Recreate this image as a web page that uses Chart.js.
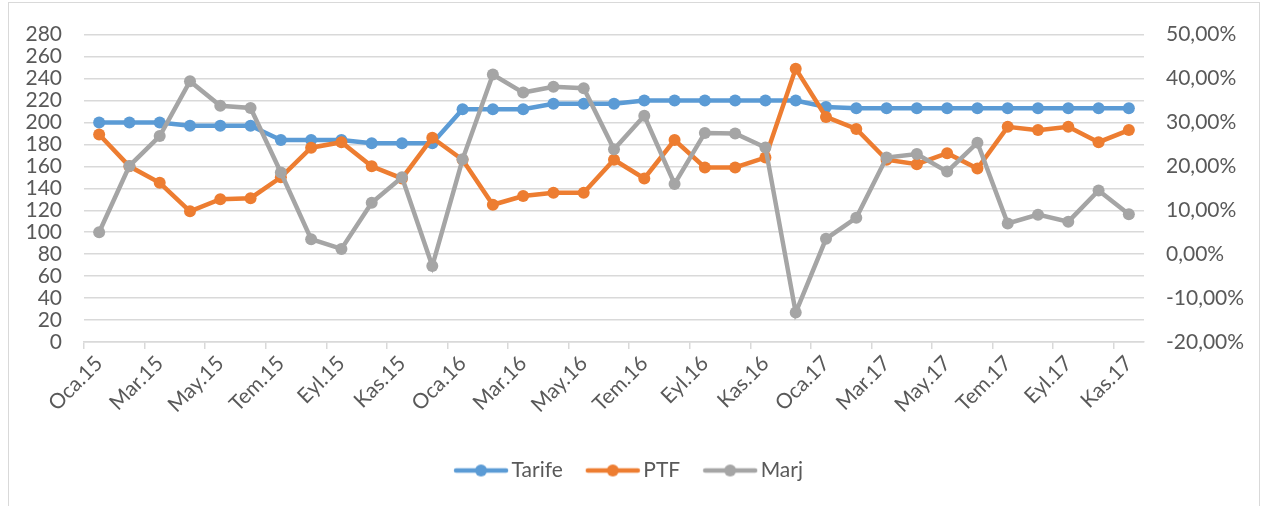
<!DOCTYPE html>
<html>
<head>
<meta charset="utf-8">
<script src="https://cdn.jsdelivr.net/npm/chart.js@4.4.1/dist/chart.umd.min.js"></script>
<style>
  html, body { margin: 0; padding: 0; background: #fff; }
  #wrap { position: relative; width: 1264px; height: 506px; overflow: hidden; }
  #frame { position: absolute; left: 8px; top: 2px; width: 1252px; height: 520px; border: 1px solid #d9d9d9; box-sizing: border-box; }
  canvas { position: absolute; left: 0; top: 0; }
</style>
</head>
<body>
<div id="wrap">
  <div id="frame"></div>
  <canvas id="c" width="1264" height="506"></canvas>
</div>
<script>
const categories = [
  'Oca.15','Şub.15','Mar.15','Nis.15','May.15','Haz.15','Tem.15','Ağu.15','Eyl.15','Eki.15','Kas.15','Ara.15',
  'Oca.16','Şub.16','Mar.16','Nis.16','May.16','Haz.16','Tem.16','Ağu.16','Eyl.16','Eki.16','Kas.16','Ara.16',
  'Oca.17','Şub.17','Mar.17','Nis.17','May.17','Haz.17','Tem.17','Ağu.17','Eyl.17','Eki.17','Kas.17'
];
const tarife = [200,200,200,197,197,197,184,184,184,181,181,181,
                212,212,212,217,217,217,220,220,220,220,220,220,
                214,213,213,213,213,213,213,213,213,213,213];
const ptf = [189,160,145,119,130,131,150,177,182,160,149,186,
             166,125,133,136,136,166,149,184,159,159,168,249,
             205,194,166,162,172,158,196,193,196,182,193];
const marj = [5.0,20.1,26.9,39.4,33.8,33.3,18.6,3.4,1.2,11.7,17.5,-2.7,
              21.6,40.9,36.8,38.1,37.8,23.9,31.5,16.0,27.6,27.5,24.3,-13.3,
              3.5,8.3,22.0,22.8,18.8,25.4,7.0,9.0,7.4,14.5,9.1];
const leftTicks = {min: 0, max: 280, step: 20};
const rightTicks = {min: -20, max: 50, step: 10};

const seriesNames = ['Tarife','PTF','Marj'];
const colors = ['#5B9BD5','#ED7D31','#A5A5A5'];
const FONT = {family: 'Lato, "Noto Sans", sans-serif', size: 21};
const TEXT = '#595959';
const GRID = '#d9d9d9';

function legendIcon(color) {
  const c = document.createElement('canvas');
  c.width = 56; c.height = 14;
  const g = c.getContext('2d');
  g.strokeStyle = color; g.lineWidth = 4.5; g.lineCap = 'round';
  g.beginPath(); g.moveTo(3, 7); g.lineTo(53, 7); g.stroke();
  g.fillStyle = color;
  g.beginPath(); g.arc(28, 7, 6, 0, Math.PI * 2); g.fill();
  return c;
}
const icons = colors.map(legendIcon);

function ds(label, data, color, axis, order) {
  return {
    label, data, yAxisID: axis, order,
    borderColor: color, backgroundColor: color,
    borderWidth: 4.5, tension: 0,
    pointRadius: 6, pointHoverRadius: 6, pointBorderWidth: 0,
    pointBackgroundColor: color
  };
}

new Chart(document.getElementById('c'), {
  type: 'line',
  data: {
    labels: categories,
    datasets: [
      ds(seriesNames[0], tarife, colors[0], 'y', 3),
      ds(seriesNames[1], ptf, colors[1], 'y', 2),
      ds(seriesNames[2], marj, colors[2], 'y1', 1)
    ]
  },
  options: {
    responsive: false,
    animation: false,
    layout: {padding: {left: 0, right: 0, top: 31, bottom: 15}},
    plugins: {
      tooltip: {enabled: false},
      legend: {
        position: 'bottom',
        labels: {
          usePointStyle: true,
          pointStyleWidth: 40,
          padding: 30,
          color: TEXT,
          font: FONT,
          generateLabels(chart) {
            const items = Chart.defaults.plugins.legend.labels.generateLabels(chart);
            items.sort((a, b) => a.datasetIndex - b.datasetIndex);
            items.forEach(it => { it.pointStyle = icons[it.datasetIndex]; });
            return items;
          }
        }
      }
    },
    scales: {
      x: {
        offset: true,
        grid: {
          offset: true,
          drawOnChartArea: false,
          drawTicks: true,
          tickLength: 7,
          lineWidth: 1.5,
          color: ctx => (ctx.index % 2 === 0 ? GRID : 'rgba(0,0,0,0)')
        },
        border: {display: true, color: GRID, width: 1.5},
        ticks: {
          autoSkip: false,
          maxRotation: 45,
          minRotation: 45,
          padding: 2,
          color: TEXT,
          font: FONT,
          callback(v, i) { return i % 2 === 0 ? categories[i] : ''; }
        },
        afterFit(s) { s.height = 88; }
      },
      y: {
        position: 'left',
        min: leftTicks.min, max: leftTicks.max,
        grid: {color: GRID, lineWidth: 1.5, drawTicks: false},
        border: {display: false},
        ticks: {stepSize: leftTicks.step, autoSkip: false, padding: 22, color: TEXT, font: FONT},
        afterFit(s) { s.width = 84; }
      },
      y1: {
        position: 'right',
        min: rightTicks.min, max: rightTicks.max,
        grid: {display: false, drawTicks: false},
        border: {display: false},
        ticks: {
          stepSize: rightTicks.step, autoSkip: false, padding: 22, color: TEXT, font: FONT,
          callback(v) { return v.toFixed(2).replace('.', ',') + '%'; }
        },
        afterFit(s) { s.width = 120; }
      }
    }
  }
});
</script>
</body>
</html>
